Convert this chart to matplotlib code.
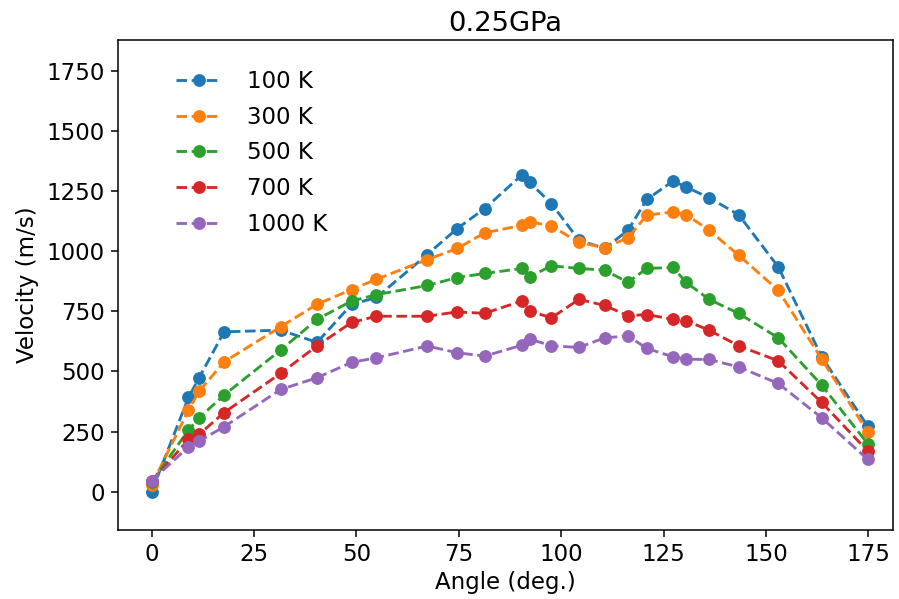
import matplotlib
matplotlib.use("Agg")
import matplotlib.pyplot as plt

# angle of each sample (deg.)
angles = [0, 9.0, 11.6, 17.7, 31.5, 40.4, 48.8, 54.9, 67.3, 74.6, 81.3,
          90.5, 92.3, 97.6, 104.3, 110.6, 116.3, 120.9, 127.3, 130.5,
          136.1, 143.3, 153.0, 163.6, 174.8]

v_100 = [0, 392, 474, 665, 672, 621, 779, 808, 987, 1095, 1178,
         1320, 1287, 1199, 1047, 1012, 1088, 1216, 1293, 1268,
         1223, 1153, 935, 561, 273]
v_300 = [27, 339, 418, 540, 686, 780, 841, 884, 966, 1012, 1077,
         1109, 1123, 1106, 1037, 1016, 1056, 1151, 1164, 1153,
         1088, 984, 838, 551, 249]
v_500 = [40, 256, 307, 402, 589, 717, 793, 820, 858, 891, 908,
         929, 894, 940, 929, 922, 871, 929, 933, 871,
         800, 742, 640, 443, 200]
v_700 = [42, 217, 238, 329, 492, 607, 704, 730, 730, 748, 742,
         794, 752, 723, 800, 775, 732, 737, 717, 711,
         672, 607, 544, 371, 169]
v_1000 = [45, 186, 210, 270, 425, 474, 538, 557, 606, 578, 564,
          610, 635, 607, 600, 640, 648, 596, 561, 551,
          550, 519, 450, 307, 134]

labels = ['100 K', '300 K', '500 K', '700 K', '1000 K']
series = [v_100, v_300, v_500, v_700, v_1000]

s = 1.37  # original looks like a 137 dpi export
plt.rcParams['font.size'] = 12 * s

fig = plt.figure(figsize=(8.99, 5.99), dpi=100)
ax = fig.add_axes([0.1313, 0.1152, 0.862, 0.818])

for vals, lab in zip(series, labels):
    ax.plot(angles, vals, '--o', label=lab, lw=1.5 * s, ms=6 * s)

ax.set_xlim(-8.2, 181)
ax.set_ylim(-160, 1880)
ax.set_xticks([0, 25, 50, 75, 100, 125, 150, 175])
ax.set_yticks([0, 250, 500, 750, 1000, 1250, 1500, 1750])
ax.tick_params(length=3.5 * s, width=0.8 * s, pad=3.5 * s)
for sp in ax.spines.values():
    sp.set_linewidth(0.8 * s)

ax.set_xlabel('Angle (deg.)', labelpad=4 * s - 2)
ax.set_ylabel('Velocity (m/s)', labelpad=4 * s)
ax.set_title('0.25GPa', pad=6 * s - 2)
ax.legend(loc='upper left', frameon=False, bbox_to_anchor=(0.048, 0.98),
          handletextpad=1.1, labelspacing=0.55)

fig.savefig('out.png', dpi=100)
